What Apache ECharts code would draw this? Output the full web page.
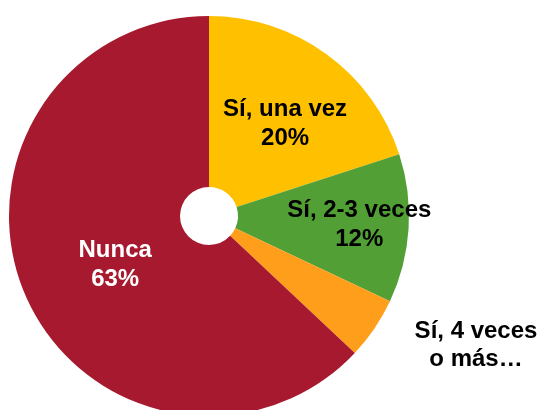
<!DOCTYPE html>
<html><head><meta charset="utf-8">
<script src="https://cdn.jsdelivr.net/npm/echarts@6/dist/echarts.min.js"></script>
<style>html,body{margin:0;padding:0;background:#fff}#c{width:540px;height:410px}</style>
</head><body><div id="c"></div>
<script>
const categories = ['Sí, una vez', 'Sí, 2-3 veces', 'Sí, 4 veces\no más…', 'Nunca'];
const values = [20, 12, 5, 63];
const colors = ['#FFC000', '#52A035', '#FF9E1B', '#A6192E'];
const labelColors = ['#000', '#000', '#000', '#fff'];
const labelShift = [[7, 3], [33, 1], [0, 0], [14, 2]];

const chart = echarts.init(document.getElementById('c'));
chart.setOption({
  animation: false,
  series: [{
    type: 'pie',
    center: [209, 216],
    radius: [29, 200],
    startAngle: 90,
    clockwise: true,
    label: {
      show: true,
      position: 'inside',
      formatter: p => p.name + '\n' + p.value + '%',
      fontFamily: 'Liberation Sans, Arial, sans-serif',
      fontWeight: 'bold',
      fontSize: 24,
      lineHeight: 29,
      align: 'center'
    },
    labelLine: { show: false },
    itemStyle: { borderWidth: 0 },
    emphasis: { disabled: true },
    labelLayout: function (params) {
      const i = params.dataIndex;
      if (i === 2) {
        return { x: 476, y: 345, align: 'center', verticalAlign: 'middle' };
      }
      return { dx: labelShift[i][0], dy: labelShift[i][1] };
    },
    data: categories.map((c, i) => {
      const d = {
        name: c, value: values[i],
        itemStyle: { color: colors[i] },
        label: { color: labelColors[i] }
      };
      if (i === 2) {
        d.label.formatter = p => p.name;
        d.label.lineHeight = 28;
      }
      return d;
    })
  }]
});
</script></body></html>
